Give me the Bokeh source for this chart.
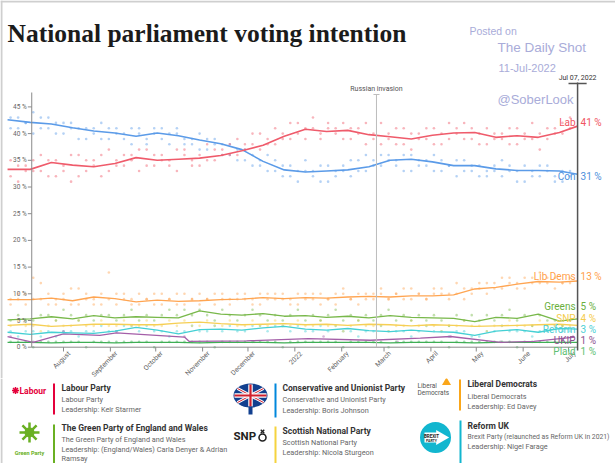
import math
import pandas as pd
from bokeh.plotting import figure
from bokeh.layouts import column
from bokeh.models import Range1d
from bokeh.core.properties import value
from bokeh.embed import file_html
from bokeh.resources import INLINE

# ---------------- data ----------------
trend_dates = ["2021-06-25", "2021-07-10", "2021-07-24", "2021-08-07", "2021-08-21", "2021-09-04",
               "2021-09-18", "2021-10-02", "2021-10-16", "2021-10-30", "2021-11-13", "2021-11-27",
               "2021-12-11", "2021-12-25", "2022-01-08", "2022-01-22", "2022-02-05", "2022-02-19",
               "2022-03-05", "2022-03-19", "2022-04-02", "2022-04-16", "2022-04-30", "2022-05-14",
               "2022-05-28", "2022-06-11", "2022-06-25", "2022-07-07"]
lab_trend = [33.3, 33.3, 34.6, 34.1, 33.8, 34.4, 35.5, 35.0, 35.2, 35.4, 35.9, 36.8, 37.8, 39.5,
             40.8, 40.4, 40.6, 39.8, 39.4, 39.0, 39.7, 40.1, 40.2, 39.3, 39.6, 39.3, 40.2, 41.4]
con_trend = [42.6, 42.1, 41.8, 41.1, 40.5, 40.1, 39.5, 40.1, 39.6, 38.8, 38.1, 37.0, 34.8, 33.2,
             32.8, 33.0, 33.2, 33.8, 35.0, 35.2, 34.7, 34.0, 34.0, 33.4, 33.1, 33.1, 33.0, 32.4]
ld_trend = [8.9, 8.9, 9.2, 8.7, 9.4, 9.1, 8.5, 8.8, 8.6, 8.7, 8.9, 9.0, 9.3, 9.1,
            9.3, 9.2, 9.4, 9.5, 9.4, 9.6, 9.6, 9.8, 10.9, 11.2, 11.8, 12.3, 12.2, 12.4]
grn_trend = [5.1, 5.3, 5.7, 5.3, 5.9, 5.5, 5.7, 5.6, 5.5, 6.8, 6.2, 6.0, 6.3, 5.8,
             5.9, 5.6, 5.8, 5.5, 5.9, 5.6, 5.5, 5.4, 4.8, 5.6, 5.4, 6.2, 4.9, 5.3]
snp_trend = [4.1, 4.3, 3.9, 4.1, 4.3, 4.3, 4.2, 4.2, 4.5, 4.7, 4.4, 4.2, 4.3, 4.4,
             4.2, 4.3, 4.1, 4.3, 4.2, 4.0, 4.2, 4.1, 3.9, 4.0, 4.1, 4.2, 4.3, 4.1]
ref_trend = [2.8, 2.4, 2.8, 2.7, 2.6, 3.0, 3.7, 3.2, 2.5, 3.3, 3.4, 3.2, 3.6, 3.9,
             3.4, 3.2, 3.5, 3.1, 2.9, 3.2, 2.9, 2.8, 2.2, 3.0, 3.3, 2.8, 3.5, 3.4]
plaid_trend = [0.9, 0.9, 0.8, 0.9, 0.9, 0.8, 0.9, 0.9, 0.9, 0.8, 0.9, 0.9, 0.9, 0.8,
               0.9, 0.9, 0.9, 0.9, 0.8, 0.9, 0.9, 0.9, 0.8, 0.9, 0.9, 0.9, 0.9, 0.9]

ukip_dates = ["2021-06-25", "2021-07-12", "2021-08-01", "2021-08-25", "2021-09-05", "2021-10-20",
              "2021-10-23", "2021-11-30", "2022-01-10", "2022-02-20", "2022-03-25", "2022-04-14",
              "2022-05-17", "2022-06-08", "2022-07-05"]
ukip_trend = [2.0, 0.9, 2.5, 2.2, 2.7, 1.9, 1.1, 1.2, 1.6, 1.3, 1.7, 2.0, 0.9, 1.1, 1.9]
ukip_poll_dates = ["2021-06-27", "2021-07-12", "2021-08-01", "2021-09-05", "2021-10-20", "2021-12-05",
                   "2022-01-20", "2022-03-10", "2022-04-14", "2022-05-17", "2022-07-04"]
ukip_polls = [2, 1, 3, 3, 2, 1, 2, 1, 2, 1, 2]

poll_dates = ["2021-06-27", "2021-07-02", "2021-07-07", "2021-07-12", "2021-07-17", "2021-07-22",
              "2021-07-27", "2021-08-01", "2021-08-06", "2021-08-11", "2021-08-16", "2021-08-21",
              "2021-08-26", "2021-08-31", "2021-09-05",
              "2021-09-10", "2021-09-15", "2021-09-20", "2021-09-25", "2021-09-30", "2021-10-05",
              "2021-10-10", "2021-10-15", "2021-10-20", "2021-10-25", "2021-10-30", "2021-11-04",
              "2021-11-09", "2021-11-14", "2021-11-19",
              "2021-11-24", "2021-11-29", "2021-12-04", "2021-12-09", "2021-12-14", "2021-12-19",
              "2021-12-24", "2021-12-29", "2022-01-03", "2022-01-08", "2022-01-13", "2022-01-18",
              "2022-01-23", "2022-01-28", "2022-02-02",
              "2022-02-07", "2022-02-12", "2022-02-17", "2022-02-22", "2022-02-27", "2022-03-04",
              "2022-03-09", "2022-03-14", "2022-03-19", "2022-03-24", "2022-03-29", "2022-04-03",
              "2022-04-08", "2022-04-13", "2022-04-18",
              "2022-04-23", "2022-04-28", "2022-05-03", "2022-05-08", "2022-05-13", "2022-05-18",
              "2022-05-23", "2022-05-28", "2022-06-02", "2022-06-07", "2022-06-12", "2022-06-17",
              "2022-06-22", "2022-06-27", "2022-07-02"]
lab_a = [35, 31, 34, 33, 36, 35, 32, 34, 31, 36, 33, 35, 32, 37, 34,
         36, 35, 33, 37, 34, 36, 35, 33, 37, 35, 34, 38, 35, 37, 36,
         39, 37, 38, 40, 38, 41, 39, 42, 40, 41, 43, 39, 41, 40, 42,
         39, 41, 38, 40, 42, 39, 38, 41, 37, 40, 39, 41, 38, 42, 40,
         39, 41, 40, 38, 40, 39, 41, 38, 40, 39, 37, 41, 40, 42, 41]
lab_b = [32, 34, 33, 35, 33, 32, 35, 33, 36, 32, 35, 34, 36, 33, 35,
         34, 36, 37, 34, 36, 35, 34, 37, 36, 34, 36, 35, 37, 36, 38,
         36, 38, 40, 37, 39, 38, 40, 39, 42, 39, 41, 40, 42, 41, 39,
         41, 40, 42, 39, 38, 40, 41, 38, 40, 39, 41, 38, 40, 39, 41,
         42, 39, 38, 41, 39, 40, 38, 41, 39, 42, 40, 39, 41, 40, 43]
con_a = [43, 41, 42, 44, 41, 43, 40, 42, 41, 39, 41, 40, 42, 39, 41,
         40, 38, 41, 39, 40, 41, 38, 40, 39, 38, 40, 37, 39, 38, 36,
         37, 35, 36, 34, 33, 35, 32, 34, 31, 33, 32, 34, 31, 33, 34,
         32, 35, 33, 34, 36, 35, 34, 36, 33, 35, 34, 36, 33, 34, 35,
         33, 34, 32, 33, 34, 32, 33, 31, 34, 33, 32, 34, 31, 33, 32]
con_b = [41, 43, 42, 40, 43, 41, 42, 40, 42, 41, 39, 41, 39, 41, 40,
         39, 41, 40, 38, 41, 39, 40, 41, 38, 39, 37, 39, 38, 36, 38,
         35, 37, 34, 35, 36, 33, 34, 32, 33, 35, 33, 31, 34, 32, 33,
         35, 33, 36, 35, 34, 36, 35, 33, 36, 34, 35, 33, 35, 34, 32,
         35, 33, 34, 32, 33, 35, 34, 33, 31, 32, 34, 33, 32, 31, 33]
ld_a = [9, 10, 8, 9, 12, 8, 9, 10, 8, 11, 9, 8, 10, 9, 8,
        10, 9, 8, 9, 10, 8, 9, 8, 10, 9, 8, 9, 10, 9, 8,
        10, 9, 8, 10, 9, 10, 9, 8, 10, 9, 10, 8, 9, 10, 11,
        9, 10, 9, 10, 11, 9, 10, 9, 11, 10, 9, 10, 11, 10, 12,
        11, 10, 11, 12, 11, 13, 12, 11, 13, 12, 14, 12, 13, 12, 13]
ld_b = [8, 9, 10, 13, 9, 10, 8, 9, 11, 8, 10, 9, 8, 14, 10,
        9, 8, 10, 9, 8, 10, 9, 10, 8, 9, 10, 9, 8, 10, 9,
        9, 10, 9, 8, 10, 9, 10, 9, 8, 10, 9, 10, 9, 8, 10,
        9, 8, 10, 9, 10, 9, 10, 11, 9, 10, 9, 11, 10, 9, 10,
        9, 11, 12, 10, 12, 11, 13, 12, 11, 13, 12, 13, 11, 12, 12]
grn_a = [5, 6, 5, 5, 6, 6, 5, 7, 6, 5, 6, 5, 6, 6, 5,
         6, 7, 5, 6, 5, 6, 7, 6, 7, 6, 7, 6, 5, 7, 6,
         5, 6, 7, 6, 5, 6, 5, 6, 7, 5, 6, 5, 6, 7, 5,
         6, 5, 6, 5, 6, 7, 5, 6, 5, 6, 5, 6, 5, 4, 6,
         5, 6, 5, 6, 5, 6, 7, 5, 6, 4, 6, 5, 5, 4, 5]
snp_a = [4, 5, 4, 4, 3, 4, 5, 4, 4, 5, 4, 4, 5, 4, 4,
         5, 4, 4, 5, 4, 4, 5, 4, 5, 4, 4, 5, 4, 4, 5,
         4, 4, 5, 4, 4, 5, 4, 4, 5, 4, 4, 5, 4, 4, 3,
         4, 5, 4, 4, 4, 3, 4, 4, 5, 4, 4, 4, 3, 4, 4,
         5, 4, 4, 3, 4, 4, 5, 4, 4, 4, 5, 4, 4, 4, 4]
ref_a = [3, 2, 3, 3, 2, 3, 2, 3, 3, 2, 3, 3, 4, 3, 3,
         4, 4, 3, 4, 3, 3, 2, 3, 3, 4, 3, 3, 4, 3, 4,
         3, 3, 4, 4, 3, 4, 4, 3, 4, 3, 3, 4, 3, 4, 3,
         3, 2, 3, 3, 4, 3, 3, 3, 2, 3, 4, 3, 3, 2, 3,
         3, 2, 2, 3, 3, 4, 3, 3, 3, 2, 3, 3, 4, 3, 3]
plaid_a = [1, 1, 1, 0, 1, 1, 1, 1, 1, 1, 0, 1, 1, 1, 1,
           1, 1, 1, 1, 0, 1, 1, 1, 1, 1, 1, 1, 0, 1, 1,
           1, 1, 1, 1, 1, 1, 0, 1, 1, 1, 1, 1, 1, 1, 0,
           1, 1, 1, 1, 1, 0, 1, 1, 1, 1, 1, 1, 1, 0, 1,
           1, 1, 1, 1, 1, 1, 1, 0, 1, 1, 1, 1, 1, 1, 1]

month_ticks = ["2021-08-01", "2021-09-01", "2021-10-01", "2021-11-01", "2021-12-01", "2022-01-01",
               "2022-02-01", "2022-03-01", "2022-04-01", "2022-05-01", "2022-06-01", "2022-07-01"]
month_labels = ["August", "September", "October", "November", "December", "2022",
                "February", "March", "April", "May", "June", "July"]
y_ticks = [0, 5, 10, 15, 20, 25, 30, 35, 40, 45]
y_tick_labels = ["0 %", "5 %", "10 %", "15 %", "20 %", "25 %", "30 %", "35 %", "40 %", "45 %"]

end_names = ["Lab", "Con", "Lib Dems", "Greens", "SNP", "Reform", "UKIP", "Plaid"]
end_values = ["41 %", "31 %", "13 %", "5 %", "4 %", "3 %", "1 %", "1 %"]
invasion_date = "2022-02-24"
last_date = "2022-07-07"

# ---------------- styles ----------------
C_LAB, C_CON, C_LD, C_GRN = "#ef5b6b", "#5b9be8", "#ffa552", "#78b84a"
C_SNP, C_REF, C_UKIP, C_PLAID = "#f6cf55", "#45d0d4", "#a45fa8", "#3fae55"
end_colors = ["#f0555f", "#4d8fdb", "#ffa04a", "#6aaf3c", "#f5cc4c", "#4ccfd4", "#8d4f8f", "#5fbf73"]
end_pys = [122, 176, 276, 306, 318, 329, 340, 351]

DAY = 86400000.0
def ms_list(lst):
    return pd.to_datetime(lst).asi8 / 1e6
def ms(d):
    return pd.Timestamp(d).value / 1e6

AUG1 = ms("2021-08-01")
PX_AUG, PX_PER_DAY, PY_ZERO, PX_PER_PCT = 63.0, 1.512, 346.7, 5.34
def gx(px):
    return AUG1 + (px - PX_AUG) / PX_PER_DAY * DAY
def gy(py):
    return (PY_ZERO - py) / PX_PER_PCT

W, H = 615, 463
CH = 378
p = figure(width=W, height=CH, x_range=Range1d(gx(0), gx(W)), y_range=Range1d(gy(CH), gy(0)),
           toolbar_location=None, output_backend="svg", min_border=0,
           x_axis_type=None, y_axis_type=None)
p.outline_line_color = None
p.background_fill_color = "white"
p.border_fill_color = "white"

F = value("Roboto")
td = ms_list(trend_dates)
pdts = ms_list(poll_dates)

# page border (top/left)
p.segment(x0=[gx(0), gx(1)], y0=[gy(1), gy(0)], x1=[gx(W), gx(1)], y1=[gy(1), gy(CH)],
          line_color="#cfcfcf", line_width=2)

# poll dots
for vals, col in [(plaid_a, C_PLAID), (ref_a, C_REF), (snp_a, C_SNP), (grn_a, C_GRN),
                  (ld_a, C_LD), (ld_b, C_LD), (con_a, C_CON), (con_b, C_CON), (lab_a, C_LAB), (lab_b, C_LAB)]:
    p.scatter(pdts, vals, size=2.6, color=col, alpha=0.45, line_color=None)
p.scatter(ms_list(ukip_poll_dates), ukip_polls, size=2.6, color=C_UKIP, alpha=0.45, line_color=None)

# trend lines
p.line(td, plaid_trend, color=C_PLAID, line_width=1.3)
p.line(ms_list(ukip_dates), ukip_trend, color=C_UKIP, line_width=1.3)
for vals, col in [(ref_trend, C_REF), (snp_trend, C_SNP), (grn_trend, C_GRN), (ld_trend, C_LD)]:
    p.line(td, vals, color=col, line_width=1.3)
p.line(td, con_trend, color=C_CON, line_width=1.6)
p.line(td, lab_trend, color=C_LAB, line_width=1.6)

# manual axes
axis_x = ms("2021-07-11")
end_x = ms(last_date)
p.segment(x0=[axis_x], y0=[0], x1=[axis_x], y1=[gy(92)], line_color="#8a8a8a", line_width=1)
p.segment(x0=[axis_x] * len(y_ticks), y0=y_ticks, x1=[axis_x - 2.6 * DAY] * len(y_ticks), y1=y_ticks,
          line_color="#8a8a8a", line_width=1)
p.text(x=[axis_x] * len(y_ticks), y=y_ticks, text=y_tick_labels, x_offset=-5, text_align="right",
       text_baseline="middle", text_font=F, text_font_size="6.5px", text_color="#666666")
p.segment(x0=[axis_x], y0=[0], x1=[end_x], y1=[0], line_color="#8a8a8a", line_width=1)
mt = ms_list(month_ticks)
p.segment(x0=mt, y0=[0] * len(mt), x1=mt, y1=[gy(351)] * len(mt), line_color="#8a8a8a", line_width=1)
p.text(x=mt, y=[gy(352)] * len(mt), text=month_labels, angle=math.pi / 4, x_offset=6,
       text_align="right", text_baseline="middle", text_font=F, text_font_size="6.8px", text_color="#666666")

# event lines
inv = ms(invasion_date)
p.segment(x0=[inv], y0=[0], x1=[inv], y1=[gy(94)], line_color="#bdbdbd", line_width=1)
p.segment(x0=[inv - 2 * DAY], y0=[gy(94)], x1=[inv + 2 * DAY], y1=[gy(94)], line_color="#bdbdbd", line_width=1)
p.text(x=[inv], y=[gy(88)], text=["Russian invasion"], text_align="center", text_baseline="middle",
       text_font=F, text_font_size="7px", text_color="#555555")
p.segment(x0=[end_x], y0=[gy(350)], x1=[end_x], y1=[gy(82)], line_color="#555555", line_width=1.5)
p.segment(x0=[end_x - 6 * DAY], y0=[gy(83)], x1=[end_x + 6 * DAY], y1=[gy(83)], line_color="#555555", line_width=1.5)
p.text(x=[end_x], y=[gy(77)], text=["Jul 07, 2022"], text_align="center", text_baseline="middle",
       text_font=F, text_font_size="7px", text_color="#333333")

# end labels
ey = [gy(v) for v in end_pys]
p.text(x=[end_x] * len(end_names), y=ey, text=end_names, x_offset=-2, text_align="right",
       text_baseline="middle", text_font=F, text_font_size="10px", text_color=end_colors)
p.text(x=[end_x] * len(end_names), y=ey, text=end_values, x_offset=3, text_align="left",
       text_baseline="middle", text_font=F, text_font_size="10px", text_color=end_colors)

# title and watermark
p.text(x=[gx(7)], y=[gy(33)], text=["National parliament voting intention"], text_align="left",
       text_baseline="alphabetic", text_font=value("Liberation Serif"), text_font_style="bold",
       text_font_size="25.5px", text_color="#1b1b1b")
WM = "#a9acd9"
p.text(x=[gx(469)], y=[gy(30)], text=["Posted on"], text_baseline="middle", text_font=value("Liberation Sans"),
       text_font_size="10.5px", text_color=WM)
p.text(x=[gx(497)], y=[gy(47)], text=["The Daily Shot"], text_baseline="middle", text_font=value("Liberation Sans"),
       text_font_size="13.5px", text_color=WM)
p.text(x=[gx(498)], y=[gy(67)], text=["11-Jul-2022"], text_baseline="middle", text_font=value("Liberation Sans"),
       text_font_size="11px", text_color=WM)
p.text(x=[gx(497)], y=[gy(99)], text=["@SoberLook"], text_baseline="middle", text_font=value("Liberation Sans"),
       text_font_size="13px", text_color=WM)

# ---------------- legend panel (page pixel coordinates) ----------------
LH = H - CH
q = figure(width=W, height=LH, x_range=Range1d(0, W), y_range=Range1d(H, CH),
           toolbar_location=None, output_backend="svg", min_border=0, x_axis_type=None, y_axis_type=None)
q.outline_line_color = None
q.segment(x0=[1], y0=[CH], x1=[1], y1=[H], line_color="#cfcfcf", line_width=2)

bar_cols = ["#e4003b", "#0087dc", "#faa61a", "#6ab023", "#f5d33f", "#12b6cf"]
q.quad(left=[52.5, 274, 458.5, 52.5, 274, 459], right=[54.5, 276, 460.5, 54.5, 276, 461],
       top=[383, 383, 379, 424, 426, 420], bottom=[414, 417, 410, 463, 463, 463],
       fill_color=bar_cols, line_color=None)

TB = dict(text_font=F, text_font_style="bold", text_font_size="8.5px", text_color="#333333",
          text_baseline="middle", text_align="left")
TR = dict(text_font=F, text_font_size="7.3px", text_color="#666666", text_baseline="middle", text_align="left")
q.text(x=[61, 282, 467, 61, 282, 467], y=[387, 387, 383, 427, 430, 425],
       text=["Labour Party", "Conservative and Unionist Party", "Liberal Democrats",
             "The Green Party of England and Wales", "Scottish National Party", "Reform UK"], **TB)
q.text(x=[61, 61, 282, 282, 467, 467, 61, 61, 61, 282, 282, 467],
       y=[399, 409, 399, 410, 396, 406, 439, 449, 458, 442, 452, 446],
       text=["Labour Party", "Leadership: Keir Starmer", "Conservative and Unionist Party",
             "Leadership: Boris Johnson", "Liberal Democrats", "Leadership: Ed Davey",
             "The Green Party of England and Wales",
             "Leadership: (England/Wales) Carla Denyer & Adrian", "Ramsay",
             "Scottish National Party", "Leadership: Nicola Sturgeon",
             "Leadership: Nigel Farage"], **TR)
q.text(x=[467], y=[436], text=["Brexit Party (relaunched as Reform UK in 2021)"], text_font=F,
       text_font_size="6.8px", text_color="#666666", text_baseline="middle", text_align="left")

# logos (approximate)
q.scatter(x=[15], y=[390], marker="asterisk", size=7, line_color="#e4003b", line_width=1.5)
q.text(x=[19], y=[390], text=["Labour"], text_font=F, text_font_style="bold", text_font_size="8.5px",
       text_color="#e4003b", text_baseline="middle")

q.ellipse(x=[250], y=[395], width=34, height=24, fill_color="#12408f", line_color=None)
q.segment(x0=[237, 237], y0=[388, 402], x1=[263, 263], y1=[402, 388], line_color="white", line_width=3)
q.segment(x0=[237, 237], y0=[388, 402], x1=[263, 263], y1=[402, 388], line_color="#d0202e", line_width=1)
q.segment(x0=[234, 250], y0=[395, 384], x1=[266, 250], y1=[395, 406], line_color="white", line_width=4.5)
q.segment(x0=[234, 250], y0=[395, 384], x1=[266, 250], y1=[395, 406], line_color="#d0202e", line_width=2.2)
q.quad(left=[248], right=[252], top=[406], bottom=[414], fill_color="#12408f", line_color=None)

q.text(x=[417, 417], y=[385, 392], text=["Liberal", "Democrats"], text_font=F, text_font_size="6.5px",
       text_color="#555555", text_baseline="middle")
q.scatter(x=[446], y=[382], marker="triangle", size=9, fill_color="#faa61a", line_color=None)

q.scatter(x=[29], y=[432], marker="asterisk", size=20, line_color="#6ab023", line_width=2.5)
q.scatter(x=[29], y=[432], marker="circle", size=10, fill_color="#6ab023", line_color=None)
q.text(x=[29], y=[452], text=["Green Party"], text_font=F, text_font_style="bold", text_font_size="5.5px",
       text_color="#6ab023", text_align="center", text_baseline="middle")

q.text(x=[233], y=[435], text=["SNP"], text_font=F, text_font_style="bold", text_font_size="11.5px",
       text_color="#222222", text_baseline="middle")
q.scatter(x=[262], y=[437], marker="circle", size=7, fill_color=None, line_color="#222222", line_width=1.6)
q.scatter(x=[262], y=[431], marker="x", size=5, line_color="#222222", line_width=1.4)

q.scatter(x=[435], y=[437], marker="circle", size=31, fill_color="#12b6cf", line_color=None)
q.quad(left=[424], right=[438], top=[432], bottom=[442], fill_color="white", line_color=None)
q.scatter(x=[440], y=[437], marker="triangle", size=15, angle=-math.pi / 2, fill_color="white", line_color=None)
q.text(x=[431, 431], y=[436, 440], text=["BREXIT", "PARTY"], text_font=F, text_font_style="bold",
       text_font_size=["4.5px", "3.5px"], text_color="#222222", text_align="center", text_baseline="middle")

layout = column(p, q, spacing=0)
open("out.html", "w").write(file_html(layout, INLINE))
